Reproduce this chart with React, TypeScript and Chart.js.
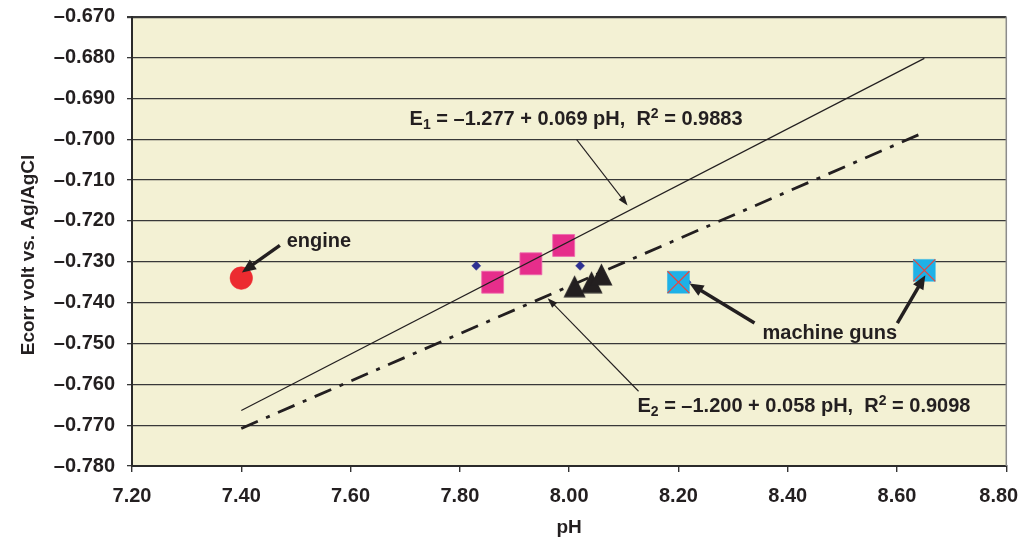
import React, { useEffect, useRef } from 'react';
import { Chart, registerables } from 'chart.js';

Chart.register(...registerables);

// ---- axis ticks ----
const xTicks = [7.2, 7.4, 7.6, 7.8, 8.0, 8.2, 8.4, 8.6, 8.8];
const yTicks = [-0.78, -0.77, -0.76, -0.75, -0.74, -0.73, -0.72, -0.71, -0.7, -0.69, -0.68, -0.67];

// ---- series ----
const engineX = [7.4];
const engineY = [-0.734];

const pinkX = [7.86, 7.93, 7.99];
const pinkY = [-0.735, -0.7305, -0.726];

const diamondX = [7.83, 8.02, 8.215];
const diamondY = [-0.731, -0.731, -0.735];

const triangleX = [8.01, 8.041, 8.059];
const triangleY = [-0.736, -0.735, -0.7331];

const gunX = [8.2, 8.65];
const gunY = [-0.735, -0.7321];

// regression lines (end points)
const e1X = [7.4, 8.65];
const e1Y = [-0.7664, -0.6802];
const e2X = [7.4, 8.65];
const e2Y = [-0.7708, -0.6983];

const pts = (xs: number[], ys: number[]) => xs.map((x, i) => ({ x, y: ys[i] }));

// ---- annotations (in data units) ----
type Seg = { t: string; sub?: boolean; sup?: boolean };
const labels: { segs: Seg[]; x: number; y: number }[] = [
  { segs: [{ t: 'engine' }], x: 7.483, y: -0.7265 },
  {
    segs: [{ t: 'E' }, { t: '1', sub: true }, { t: ' = \u20131.277 + 0.069 pH,  R' }, { t: '2', sup: true }, { t: ' = 0.9883' }],
    x: 7.708,
    y: -0.6966,
  },
  {
    segs: [{ t: 'E' }, { t: '2', sub: true }, { t: ' = \u20131.200 + 0.058 pH,  R' }, { t: '2', sup: true }, { t: ' = 0.9098' }],
    x: 8.125,
    y: -0.7668,
  },
  { segs: [{ t: 'machine guns' }], x: 8.354, y: -0.749 },
];

const arrows = [
  { from: [7.4706, -0.726], to: [7.4011, -0.7326], thick: true },
  { from: [8.3392, -0.745], to: [8.2203, -0.7353], thick: true },
  { from: [8.6006, -0.745], to: [8.6518, -0.7333], thick: true },
  { from: [8.0137, -0.7001], to: [8.1069, -0.7162], thick: false },
  { from: [8.127, -0.7617], to: [7.9607, -0.7389], thick: false },
];

const INK = '#231F20';
const FONT = '"Liberation Sans", Arial, Helvetica, sans-serif';
const FS = 20;
const TFS = 19;

function drawRich(ctx: CanvasRenderingContext2D, segs: Seg[], x: number, y: number) {
  let cx = x;
  ctx.textAlign = 'left';
  ctx.textBaseline = 'alphabetic';
  for (const s of segs) {
    const small = s.sub || s.sup;
    const size = small ? Math.round(FS * 0.68) : FS;
    ctx.font = `bold ${size}px ${FONT}`;
    const dy = s.sub ? FS * 0.2 : s.sup ? -FS * 0.36 : 0;
    ctx.fillText(s.t, cx, y + dy);
    cx += ctx.measureText(s.t).width;
  }
}

function drawArrow(ctx: CanvasRenderingContext2D, x1: number, y1: number, x2: number, y2: number, thick: boolean) {
  const ang = Math.atan2(y2 - y1, x2 - x1);
  const L = thick ? 14 : 10;
  const W = thick ? 6 : 3.5;
  const bx = x2 - Math.cos(ang) * L;
  const by = y2 - Math.sin(ang) * L;
  ctx.strokeStyle = INK;
  ctx.fillStyle = INK;
  ctx.lineWidth = thick ? 3.5 : 1.1;
  ctx.beginPath();
  ctx.moveTo(x1, y1);
  ctx.lineTo(bx + Math.cos(ang) * 2, by + Math.sin(ang) * 2);
  ctx.stroke();
  ctx.beginPath();
  ctx.moveTo(x2, y2);
  ctx.lineTo(bx + Math.sin(ang) * W, by - Math.cos(ang) * W);
  ctx.lineTo(bx - Math.sin(ang) * W, by + Math.cos(ang) * W);
  ctx.closePath();
  ctx.fill();
}

function makeTriangle(): HTMLCanvasElement {
  const c = document.createElement('canvas');
  c.width = 23;
  c.height = 23;
  const g = c.getContext('2d')!;
  g.fillStyle = INK;
  g.beginPath();
  g.moveTo(11.5, 0.5);
  g.lineTo(22.5, 22.5);
  g.lineTo(0.5, 22.5);
  g.closePath();
  g.fill();
  return c;
}

const decorPlugin = {
  id: 'decor',
  beforeDraw(chart: any) {
    const { ctx, chartArea: a } = chart;
    ctx.save();
    ctx.fillStyle = '#F3F1D4';
    ctx.fillRect(a.left, a.top, a.right - a.left, a.bottom - a.top);
    ctx.restore();
  },
  afterDraw(chart: any) {
    const { ctx, chartArea: a, scales } = chart;
    const xs = scales.x;
    const ys = scales.y;
    ctx.save();
    // right border
    ctx.strokeStyle = '#8c8c8c';
    ctx.lineWidth = 1.5;
    ctx.beginPath();
    ctx.moveTo(a.right, a.top);
    ctx.lineTo(a.right, a.bottom);
    ctx.stroke();

    ctx.fillStyle = INK;
    for (const l of labels) {
      drawRich(ctx, l.segs, xs.getPixelForValue(l.x), ys.getPixelForValue(l.y));
    }
    for (const ar of arrows) {
      drawArrow(
        ctx,
        xs.getPixelForValue(ar.from[0]),
        ys.getPixelForValue(ar.from[1]),
        xs.getPixelForValue(ar.to[0]),
        ys.getPixelForValue(ar.to[1]),
        ar.thick
      );
    }

    // axis titles
    ctx.fillStyle = INK;
    ctx.font = `bold ${TFS}px ${FONT}`;
    ctx.textAlign = 'center';
    ctx.textBaseline = 'alphabetic';
    ctx.fillText('pH', (a.left + a.right) / 2, 533);
    ctx.translate(34, 255);
    ctx.rotate(-Math.PI / 2);
    ctx.fillText('Ecorr volt vs. Ag/AgCl', 0, 0);
    ctx.restore();
  },
};

export default function App() {
  const ref = useRef<HTMLCanvasElement | null>(null);

  useEffect(() => {
    if (!ref.current) return;
    const tri = makeTriangle();
    const chart = new Chart(ref.current, {
      type: 'scatter',
      data: {
        datasets: [
          {
            label: 'E1',
            data: pts(e1X, e1Y),
            showLine: true,
            borderColor: INK,
            borderWidth: 1.2,
            pointRadius: 0,
          },
          {
            label: 'E2',
            data: pts(e2X, e2Y),
            showLine: true,
            borderColor: INK,
            borderWidth: 2.8,
            borderDash: [18, 9, 4, 9],
            pointRadius: 0,
          },
          {
            label: 'machine guns x',
            data: pts(gunX, gunY),
            pointStyle: 'crossRot',
            pointRadius: 15.5,
            borderColor: '#E8453D',
            borderWidth: 1.2,
            backgroundColor: 'rgba(0,0,0,0)',
          },
          {
            label: 'machine guns',
            data: pts(gunX, gunY),
            pointStyle: 'rect',
            pointRadius: 15.5,
            backgroundColor: '#1EB1E7',
            borderColor: '#1EB1E7',
            borderWidth: 0.5,
          },
          {
            label: 'triangles',
            data: pts(triangleX, triangleY),
            pointStyle: tri,
            pointRadius: 12,
          },
          {
            label: 'squares',
            data: pts(pinkX, pinkY),
            pointStyle: 'rect',
            pointRadius: 15.5,
            backgroundColor: '#E62E8B',
            borderColor: '#EE6AAE',
            borderWidth: 0.8,
          },
          {
            label: 'engine',
            data: pts(engineX, engineY),
            pointStyle: 'circle',
            pointRadius: 11.3,
            backgroundColor: '#EC2B30',
            borderColor: '#EC2B30',
            borderWidth: 0.5,
          },
          {
            label: 'samples',
            data: pts(diamondX, diamondY),
            pointStyle: 'rectRot',
            pointRadius: 4.5,
            backgroundColor: '#2E3192',
            borderColor: '#2E3192',
            borderWidth: 0.5,
          },
        ],
      },
      options: {
        animation: false,
        responsive: true,
        maintainAspectRatio: false,
        events: [],
        layout: { padding: { top: 16, right: 16, left: 0, bottom: 0 } },
        plugins: { legend: { display: false }, tooltip: { enabled: false } },
        scales: {
          x: {
            type: 'linear',
            min: xTicks[0],
            max: xTicks[xTicks.length - 1],
            afterBuildTicks: (s: any) => {
              s.ticks = xTicks.map((v) => ({ value: v }));
            },
            afterFit: (s: any) => {
              s.height = 72;
              s.paddingLeft = 0;
              s.paddingRight = 0;
            },
            grid: {
              drawOnChartArea: false,
              drawTicks: true,
              tickLength: 6,
              color: '#333',
              lineWidth: 1.4,
            },
            border: { display: true, color: '#2a2a2a', width: 2 },
            ticks: {
              padding: 12,
              color: INK,
              font: { family: FONT, size: FS, weight: 'bold' },
              maxRotation: 0,
              autoSkip: false,
              callback: (v: any, i: number) =>
                Number(v).toFixed(2) + (i === xTicks.length - 1 ? '\u2007\u2009' : ''),
            },
          },
          y: {
            type: 'linear',
            min: yTicks[0],
            max: yTicks[yTicks.length - 1],
            afterBuildTicks: (s: any) => {
              s.ticks = yTicks.map((v) => ({ value: v }));
            },
            afterFit: (s: any) => {
              s.width = 132;
              s.paddingTop = 0;
              s.paddingBottom = 0;
            },
            grid: {
              drawOnChartArea: true,
              drawTicks: true,
              tickLength: 5,
              color: '#383838',
              lineWidth: (c: any) => (c.tick && Math.abs(c.tick.value - yTicks[yTicks.length - 1]) < 1e-9 ? 2.2 : 1.3),
            },
            border: { display: true, color: '#2a2a2a', width: 2 },
            ticks: {
              padding: 12,
              color: INK,
              font: { family: FONT, size: FS, weight: 'bold' },
              autoSkip: false,
              callback: (v: any) => '\u2013' + Math.abs(Number(v)).toFixed(3),
            },
          },
        },
      },
      plugins: [decorPlugin],
    } as any);
    return () => chart.destroy();
  }, []);

  return (
    <div style={{ position: 'fixed', left: 0, top: 0, width: 1023, height: 538, background: '#fff' }}>
      <canvas ref={ref} />
    </div>
  );
}
